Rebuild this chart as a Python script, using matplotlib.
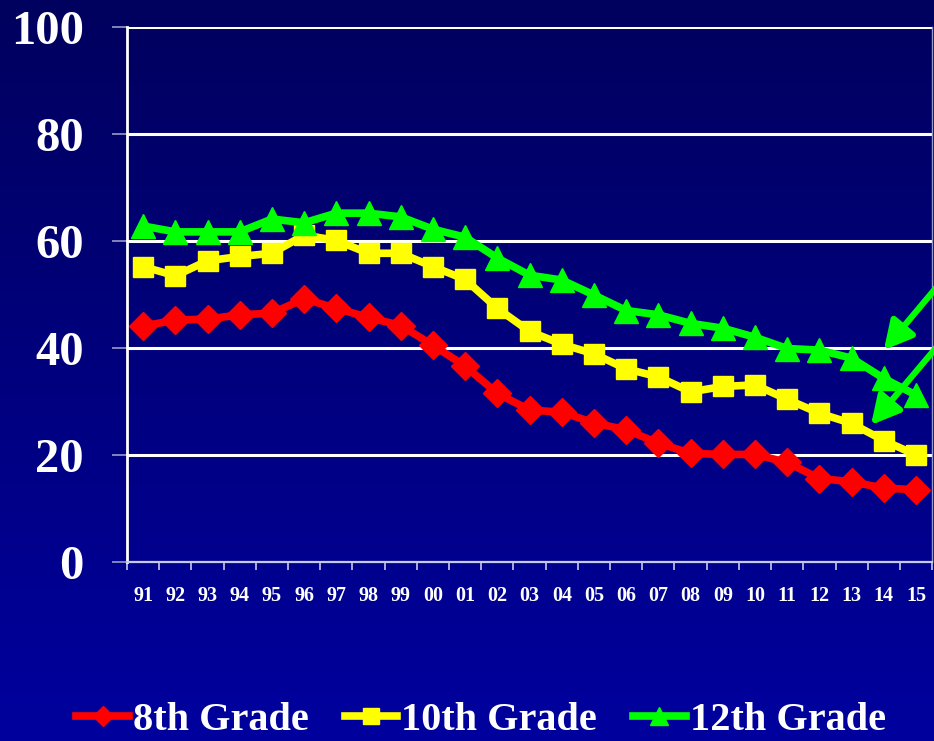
import matplotlib
matplotlib.use("Agg")
import matplotlib.pyplot as plt
from matplotlib.colors import LinearSegmentedColormap
import numpy as np

# Data
years = ["91", "92", "93", "94", "95", "96", "97", "98", "99", "00", "01", "02", "03",
         "04", "05", "06", "07", "08", "09", "10", "11", "12", "13", "14", "15"]
grade8 = [44.1, 45.2, 45.4, 46.2, 46.5, 49.2, 47.4, 45.7, 44.2, 40.5, 36.6, 31.5, 28.4,
          28.0, 26.0, 24.7, 22.2, 20.3, 20.1, 20.1, 18.6, 15.6, 15.0, 13.8, 13.5]
grade10 = [55.2, 53.5, 56.3, 57.1, 57.7, 61.1, 60.1, 57.7, 57.7, 55.2, 52.8, 47.4, 43.1,
           40.7, 38.9, 36.1, 34.6, 31.8, 32.8, 33.1, 30.4, 27.8, 25.9, 22.7, 20.0]
grade12 = [62.8, 61.7, 61.7, 61.7, 64.1, 63.4, 65.2, 65.2, 64.5, 62.2, 60.7, 56.8, 53.6,
           52.7, 49.9, 47.0, 46.2, 44.6, 43.7, 42.0, 39.9, 39.6, 38.1, 34.3, 31.2]
y_ticks = [0, 20, 40, 60, 80, 100]

# annotation arrows (tail -> tip, data coords)
arrow_tails = [(24.7, 51.8), (24.7, 40.6)]
arrow_tips = [(23.0, 39.6), (22.6, 25.6)]

plt.rcParams["font.family"] = ["Liberation Serif", "DejaVu Serif"]
plt.rcParams["font.weight"] = "bold"

fig = plt.figure(figsize=(9.34, 7.41), dpi=100)

# gradient background
bg = fig.add_axes([0, 0, 1, 1], zorder=-10)
grad = np.linspace(0, 1, 256).reshape(-1, 1)
cmap = LinearSegmentedColormap.from_list("bg", ["#00005E", "#00009E"])
bg.imshow(grad, aspect="auto", cmap=cmap, extent=[0, 1, 0, 1], origin="upper")
bg.axis("off")

ax = fig.add_axes([0.136, 0.2416, 0.862, 0.722])
ax.patch.set_alpha(0)
x = np.arange(len(years))

ax.plot(x, grade8, color="#FF0000", lw=5.5, marker="D", ms=14, label="8th Grade",
        zorder=3, solid_joinstyle="round")
ax.plot(x, grade10, color="#FFFF00", lw=5.5, marker="s", ms=15, label="10th Grade",
        zorder=3, solid_joinstyle="round")
ax.plot(x, grade12, color="#00FF00", lw=5.5, marker="^", ms=17, label="12th Grade",
        zorder=3, solid_joinstyle="round")

for tail, tip in zip(arrow_tails, arrow_tips):
    ax.annotate("", xy=tip, xytext=tail, annotation_clip=False,
                arrowprops=dict(arrowstyle="-|>,head_length=0.85,head_width=0.45",
                                mutation_scale=20, color="#00FF00", lw=4.5,
                                shrinkA=0, shrinkB=0), zorder=4)

ax.set_xlim(-0.5, len(years) - 0.5)
ax.set_ylim(0, 100)
ax.set_yticks(y_ticks)
ax.set_yticklabels([str(v) for v in y_ticks], fontsize=35, color="white")
ax.set_xticks(x)
ax.set_xticklabels(years, fontsize=14.5, color="white")
ax.set_xticks(np.arange(-0.5, len(years), 1), minor=True)
ax.tick_params(axis="x", which="major", length=0, pad=17)
ax.tick_params(axis="x", which="minor", length=6, width=1.2, color="#C8C8E8")
ax.tick_params(axis="y", length=11, width=1.2, color="#9A9AC8", pad=20)

for v in y_ticks[1:]:
    ax.axhline(v, color="white", lw=2.2, zorder=1)

ax.spines["left"].set_color("white")
ax.spines["left"].set_linewidth(2)
ax.spines["bottom"].set_color("#C8C8E8")
ax.spines["bottom"].set_linewidth(1.6)
ax.spines["right"].set_color("#9A9AC8")
ax.spines["right"].set_linewidth(1)
ax.spines["top"].set_visible(False)

leg = fig.legend(loc="center", bbox_to_anchor=(0.515, 0.028), ncol=3, frameon=False,
                 prop={"family": "Liberation Serif", "weight": "bold", "size": 29},
                 handlelength=1.3, handletextpad=0.1, columnspacing=0.9,
                 markerscale=0.75)
for t in leg.get_texts():
    t.set_color("white")

fig.savefig("out.png", dpi=100)
